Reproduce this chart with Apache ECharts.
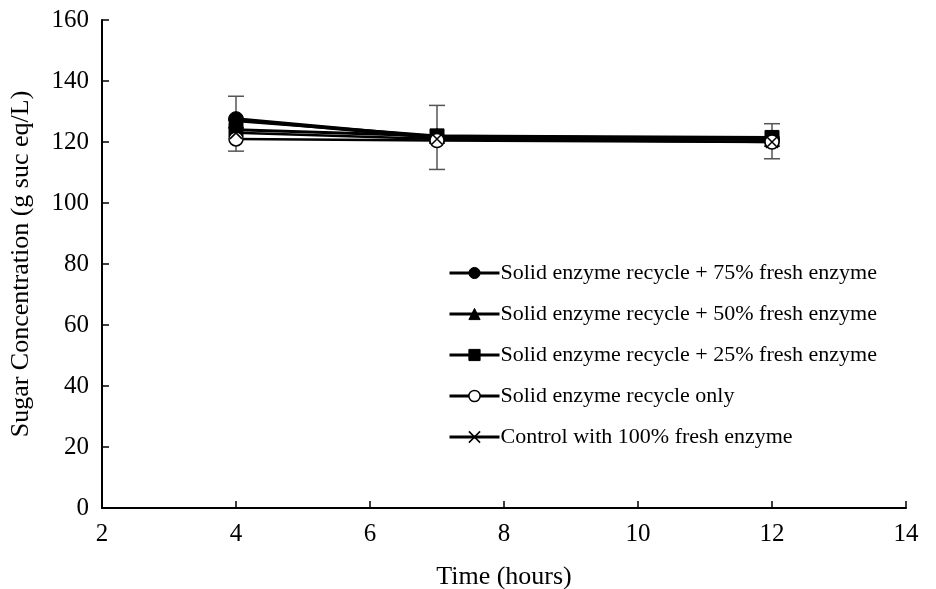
<!DOCTYPE html>
<html><head><meta charset="utf-8">
<script src="https://cdn.jsdelivr.net/npm/echarts@6/dist/echarts.min.js"></script>
<style>html,body{margin:0;padding:0;background:#fff}#c{width:936px;height:589px}</style>
</head><body><div id="c"></div>
<script>
const times = [4, 7, 12];
const names = [
  'Solid enzyme recycle + 75% fresh enzyme',
  'Solid enzyme recycle + 50% fresh enzyme',
  'Solid enzyme recycle + 25% fresh enzyme',
  'Solid enzyme recycle only',
  'Control with 100% fresh enzyme'
];
const s75 = [127.5, 121.5, 121];
const s50 = [127, 122, 121];
const s25 = [124, 122, 121.5];
const sOnly = [121, 120.5, 120];
const sCtrl = [123, 121, 120];
const errLow = [117, 111, 114.5];
const errHigh = [135, 132, 126];

const F = 'Liberation Serif, Times New Roman, serif';
const xPath = 'path://M0,0L10,10M10,0L0,10';
const symbols = ['circle', 'triangle', 'rect', 'circle', xPath];
const sizes = [15, 15, 14, 14, 12];
const widths = [4, 3, 3, 2.5, 2.5];
const data = [s75, s50, s25, sOnly, sCtrl];

const chart = echarts.init(document.getElementById('c'));
const styles = [
  {color: '#000', borderColor: '#000', borderWidth: 1},
  {color: '#000', borderColor: '#000', borderWidth: 1},
  {color: '#000', borderColor: '#000', borderWidth: 1},
  {color: '#fff', borderColor: '#000', borderWidth: 1.5},
  {color: '#000', borderColor: '#000', borderWidth: 1.5}
];
const series = [{
  type: 'custom',
  name: 'err',
  silent: true,
  z: 1,
  data: times.map((t, i) => [t, errLow[i], errHigh[i]]),
  renderItem: function (params, api) {
    const x = api.value(0);
    const lo = api.coord([x, api.value(1)]);
    const hi = api.coord([x, api.value(2)]);
    const w = 8;
    const st = {stroke: '#555', lineWidth: 1.5};
    return {type: 'group', children: [
      {type: 'line', shape: {x1: lo[0], y1: lo[1], x2: hi[0], y2: hi[1]}, style: st},
      {type: 'line', shape: {x1: lo[0]-w, y1: lo[1], x2: lo[0]+w, y2: lo[1]}, style: st},
      {type: 'line', shape: {x1: hi[0]-w, y1: hi[1], x2: hi[0]+w, y2: hi[1]}, style: st}
    ]};
  }
}];
names.forEach((n, k) => {
  series.push({
    type: 'line',
    name: n,
    data: times.map((t, i) => [t, data[k][i]]),
    symbol: symbols[k],
    symbolSize: sizes[k],
    showAllSymbol: true,
    z: 3,
    lineStyle: {color: '#000', width: widths[k]},
    itemStyle: styles[k]
  });
});

chart.setOption({
  animation: false,
  backgroundColor: '#fff',
  grid: {left: 102, right: 30, top: 20, bottom: 81, containLabel: false, outerBoundsMode: 'none'},
  legend: {
    data: names.map((n, k) => ({name: n, itemStyle: styles[k], lineStyle: {color: '#000', width: 3}})),
    orient: 'vertical',
    left: 448,
    top: 262,
    padding: 0,
    itemWidth: 50,
    itemHeight: 14,
    itemGap: 19,
    textStyle: {fontFamily: F, fontSize: 22, lineHeight: 22, color: '#000', padding: [0,0,0,-4]}
  },
  xAxis: {
    type: 'value', min: 2, max: 14, interval: 2,
    name: 'Time (hours)', nameLocation: 'middle', nameGap: 56,
    nameTextStyle: {fontFamily: F, fontSize: 26, color: '#000'},
    axisLine: {lineStyle: {color: '#000', width: 2}},
    axisTick: {show: true, inside: true, length: 7, lineStyle: {color: '#000', width: 1.5}},
    axisLabel: {fontFamily: F, fontSize: 25, color: '#000', margin: 14},
    splitLine: {show: false}
  },
  yAxis: {
    type: 'value', min: 0, max: 160, interval: 20,
    name: 'Sugar Concentration (g suc eq/L)', nameLocation: 'middle', nameGap: 68,
    nameTextStyle: {fontFamily: F, fontSize: 26, color: '#000'},
    axisLine: {show: true, lineStyle: {color: '#000', width: 2}},
    axisTick: {show: true, inside: true, length: 7, lineStyle: {color: '#000', width: 1.5}},
    axisLabel: {fontFamily: F, fontSize: 25, color: '#000', margin: 13},
    splitLine: {show: false}
  },
  series: series
});
</script></body></html>
